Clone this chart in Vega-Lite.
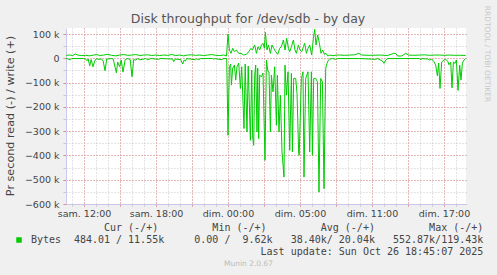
{
  "$schema": "https://vega.github.io/schema/vega-lite/v6.json",
  "width": 400,
  "height": 176,
  "autosize": "none",
  "padding": {"left": 66, "top": 28, "right": 31, "bottom": 71},
  "background": "#F0F0F0",
  "config": {"view": {"fill": "white", "stroke": null}, "font": "DejaVu Sans"},
  "title": {"text": "Disk throughput for /dev/sdb - by day", "font": "DejaVu Sans", "fontSize": 12.5, "fontWeight": "normal", "color": "#555555", "anchor": "middle", "frame": "group", "dx": -18, "dy": 24.5, "offset": 4},
  "datasets": {
    "write": [
      {"t":-1.483,"v":12400},{"t":-1.192,"v":13600},{"t":-0.942,"v":11600},{"t":-0.717,"v":17800},{"t":-0.525,"v":13600},{"t":-0.192,"v":11600},{"t":0.142,"v":12400},{"t":0.475,"v":10300},{"t":0.808,"v":13600},{"t":1.058,"v":15700},{"t":1.308,"v":11600},{"t":1.642,"v":13600},{"t":1.975,"v":16500},{"t":2.308,"v":12400},{"t":2.642,"v":10300},{"t":2.975,"v":13600},{"t":3.308,"v":15700},{"t":3.642,"v":12400},{"t":3.975,"v":13600},{"t":4.308,"v":15700},{"t":4.642,"v":11600},{"t":4.975,"v":13600},{"t":5.308,"v":14500},{"t":5.642,"v":11600},{"t":5.975,"v":13600},{"t":6.308,"v":11600},{"t":6.642,"v":13600},{"t":6.975,"v":12400},{"t":7.308,"v":15700},{"t":7.642,"v":11600},{"t":7.975,"v":13600},{"t":8.308,"v":10300},{"t":8.642,"v":13600},{"t":8.975,"v":14500},{"t":9.308,"v":12400},{"t":9.642,"v":13600},{"t":9.975,"v":11600},{"t":10.308,"v":13600},{"t":10.642,"v":15700},{"t":10.975,"v":12400},{"t":11.308,"v":11600},{"t":11.642,"v":13600},{"t":11.875,"v":9600},
      {"t":12.0,"v":100400},{"t":12.117,"v":34300},{"t":12.25,"v":20700},{"t":12.392,"v":41300},{"t":12.533,"v":27300},{"t":12.7,"v":34300},{"t":12.892,"v":20700},{"t":13.083,"v":20700},{"t":13.308,"v":13600},{"t":13.533,"v":16500},{"t":13.725,"v":27300},{"t":13.917,"v":41300},{"t":14.033,"v":34300},{"t":14.225,"v":55000},{"t":14.367,"v":20700},{"t":14.5,"v":47900},{"t":14.642,"v":34300},{"t":14.783,"v":55000},{"t":14.917,"v":62000},{"t":15.033,"v":41300},{"t":15.117,"v":107400},{"t":15.25,"v":34300},{"t":15.367,"v":55000},{"t":15.533,"v":20700},{"t":15.667,"v":55000},{"t":15.808,"v":41300},{"t":15.975,"v":27300},{"t":16.142,"v":16500},{"t":16.308,"v":41300},{"t":16.45,"v":47900},{"t":16.617,"v":75600},{"t":16.75,"v":34300},{"t":16.892,"v":82600},{"t":17.033,"v":41300},{"t":17.142,"v":27300},{"t":17.283,"v":47900},{"t":17.45,"v":75600},{"t":17.583,"v":34300},{"t":17.7,"v":20700},{"t":17.867,"v":55000},{"t":18.0,"v":34300},{"t":18.142,"v":27300},{"t":18.283,"v":47900},{"t":18.392,"v":62000},{"t":18.533,"v":20700},{"t":18.667,"v":41300},{"t":18.808,"v":55000},{"t":18.975,"v":13600},{"t":19.117,"v":82600},{"t":19.225,"v":119400},{"t":19.333,"v":55000},{"t":19.475,"v":96300},{"t":19.617,"v":62000},{"t":19.75,"v":20700},{"t":19.892,"v":34300},{"t":20.033,"v":16500},{"t":20.167,"v":20700},{"t":20.308,"v":9700},{"t":20.475,"v":13600},{"t":20.75,"v":10700},
      {"t":21.033,"v":13600},{"t":21.308,"v":13600},{"t":21.725,"v":12400},{"t":22.142,"v":13600},{"t":22.558,"v":14500},{"t":22.892,"v":20700},{"t":23.142,"v":13600},{"t":23.808,"v":12400},{"t":24.642,"v":13600},{"t":25.308,"v":11600},{"t":25.808,"v":20700},{"t":25.975,"v":19800},{"t":26.142,"v":9600},{"t":26.475,"v":9600},{"t":26.808,"v":20700},{"t":27.058,"v":13600},{"t":27.475,"v":12400},{"t":27.975,"v":13600},{"t":28.392,"v":14500},{"t":28.808,"v":12400},{"t":29.225,"v":13600},{"t":29.642,"v":13600},{"t":30.058,"v":12400},{"t":30.475,"v":13600},{"t":30.892,"v":12400},{"t":31.308,"v":12800},{"t":31.8,"v":11550}
    ],
    "read": [
      {"t":-1.483,"v":0},{"t":-1.133,"v":-5800},{"t":-1.025,"v":-800},{"t":-0.025,"v":-800},{"t":0.142,"v":-2900},{"t":0.25,"v":-9900},{"t":0.35,"v":-2900},{"t":0.475,"v":-30600},{"t":0.6,"v":-5000},{"t":0.75,"v":-34700},{"t":0.892,"v":-11200},{"t":1.017,"v":-1700},{"t":1.25,"v":-4100},{"t":1.475,"v":-2900},{"t":1.6,"v":-11200},{"t":1.75,"v":-51200},{"t":1.892,"v":-2900},{"t":2.308,"v":-800},{"t":2.433,"v":-2900},{"t":2.7,"v":-59500},{"t":2.808,"v":-15300},{"t":2.975,"v":-34700},{"t":3.1,"v":-7000},{"t":3.25,"v":-56600},{"t":3.433,"v":-5000},{"t":3.642,"v":-800},{"t":3.85,"v":-5000},{"t":4.0,"v":-76000},{"t":4.142,"v":-5000},{"t":4.308,"v":-7000},{"t":4.475,"v":-800},{"t":4.642,"v":-5800},{"t":4.892,"v":-4100},{"t":5.142,"v":-800},{"t":5.308,"v":-5800},{"t":5.558,"v":-800},{"t":6.225,"v":-4100},{"t":6.392,"v":-800},{"t":7.392,"v":-2900},{"t":7.475,"v":-14000},{"t":7.6,"v":-2900},{"t":8.058,"v":-5000},{"t":8.225,"v":-23600},{"t":8.35,"v":-7000},{"t":8.45,"v":-11200},{"t":8.558,"v":-800},{"t":9.283,"v":-5800},{"t":9.392,"v":-2100},{"t":9.558,"v":-5800},{"t":9.725,"v":-800},{"t":10.725,"v":-800},{"t":10.808,"v":-4100},{"t":10.892,"v":-800},{"t":11.5,"v":-5800},{"t":11.6,"v":-800},{"t":11.892,"v":-800},
      {"t":12.0,"v":-316900},{"t":12.117,"v":-34700},{"t":12.225,"v":-23600},{"t":12.283,"v":-110300},{"t":12.392,"v":-40100},{"t":12.533,"v":-27700},{"t":12.642,"v":-89700},{"t":12.75,"v":-34700},{"t":12.892,"v":-19400},{"t":13.033,"v":-124000},{"t":13.142,"v":-34700},{"t":13.333,"v":-289200},{"t":13.433,"v":-23600},{"t":13.583,"v":-303300},{"t":13.683,"v":-31800},{"t":13.867,"v":-337600},{"t":13.975,"v":-48300},{"t":14.058,"v":-324000},{"t":14.142,"v":-358200},{"t":14.225,"v":-69000},{"t":14.308,"v":-27700},{"t":14.417,"v":-303300},{"t":14.475,"v":-40100},{"t":14.558,"v":-330600},{"t":14.642,"v":-69000},{"t":14.783,"v":-76000},{"t":14.917,"v":-60700},{"t":15.083,"v":-420200},{"t":15.2,"v":-7000},{"t":15.333,"v":-55400},{"t":15.417,"v":-55400},{"t":15.533,"v":-303300},{"t":15.617,"v":-69000},{"t":15.75,"v":-138000},{"t":15.892,"v":-34700},{"t":16.033,"v":-275600},{"t":16.117,"v":-69000},{"t":16.25,"v":-303300},{"t":16.367,"v":-151600},{"t":16.5,"v":-385900},{"t":16.667,"v":-489200},{"t":16.75,"v":-27700},{"t":16.867,"v":-151600},{"t":17.0,"v":-55400},{"t":17.142,"v":-378900},{"t":17.283,"v":-62000},{"t":17.367,"v":-385900},{"t":17.475,"v":-82600},{"t":17.642,"v":-82600},{"t":17.75,"v":-144600},{"t":17.892,"v":-392500},{"t":17.933,"v":-399600},{"t":18.117,"v":-82600},{"t":18.25,"v":-55400},{"t":18.333,"v":-489200},{"t":18.475,"v":-82600},{"t":18.667,"v":-55400},{"t":18.808,"v":-385900},{"t":18.95,"v":-55400},{"t":19.033,"v":-399600},{"t":19.142,"v":-82600},{"t":19.308,"v":-82600},{"t":19.45,"v":-96700},{"t":19.583,"v":-551200},{"t":19.725,"v":-82600},{"t":19.867,"v":-96700},{"t":20.0,"v":-537200},{"t":20.142,"v":-41300},{"t":20.25,"v":-20700},{"t":20.367,"v":-7000},{"t":20.475,"v":-2900},{"t":20.725,"v":-800},
      {"t":20.975,"v":-4100},{"t":21.142,"v":-800},{"t":22.975,"v":-800},{"t":24.308,"v":-4100},{"t":24.475,"v":-800},{"t":24.867,"v":-11200},{"t":25.0,"v":-20700},{"t":25.142,"v":-7000},{"t":25.308,"v":-800},{"t":27.975,"v":-800},{"t":28.058,"v":-7000},{"t":28.142,"v":-800},{"t":28.642,"v":-2900},{"t":28.808,"v":-7000},{"t":28.975,"v":-2900},{"t":29.167,"v":-14000},{"t":29.308,"v":-27700},{"t":29.45,"v":-71900},{"t":29.558,"v":-19400},{"t":29.667,"v":-124000},{"t":29.808,"v":-15300},{"t":30.0,"v":-7000},{"t":30.142,"v":-5000},{"t":30.308,"v":-11200},{"t":30.417,"v":-26400},{"t":30.558,"v":-15300},{"t":30.667,"v":-121500},{"t":30.783,"v":-15300},{"t":30.917,"v":-20700},{"t":31.033,"v":-7000},{"t":31.167,"v":-132200},{"t":31.308,"v":-27700},{"t":31.417,"v":-89700},{"t":31.533,"v":-19400},{"t":31.667,"v":-7000},{"t":31.8,"v":-484}
    ]
  },
  "resolve": {"axis": {"x": "independent", "y": "independent"}},
  "layer": [
    {
      "data": {"name": "write"},
      "mark": {"type": "line", "strokeWidth": 1, "interpolate": "linear"},
      "encoding": {
        "x": {"field": "t", "type": "quantitative", "scale": {"domain": [-1.5, 31.833], "nice": false, "zero": false},
          "axis": {"orient": "bottom", "values": [-1,0,1,2,3,4,5,6,7,8,9,10,11,12,13,14,15,16,17,18,19,20,21,22,23,24,25,26,27,28,29,30,31], "grid": true, "gridColor": "#C8C8C8", "gridDash": [1, 2], "gridWidth": 1, "ticks": true, "tickColor": "#C8C8C8", "tickSize": 2, "labels": false, "domain": false, "title": null}},
        "y": {"field": "v", "type": "quantitative", "scale": {"domain": [-600000, 125000], "nice": false, "zero": false},
          "axis": {"orient": "left", "values": [-600000,-550000,-500000,-450000,-400000,-350000,-300000,-250000,-200000,-150000,-100000,-50000,0,50000,100000], "grid": true, "gridColor": "#C8C8C8", "gridDash": [1, 2], "gridWidth": 1, "ticks": true, "tickColor": "#C8C8C8", "tickSize": 3, "labels": false, "domain": false, "title": null}},
        "color": {"datum": "Bytes", "type": "nominal", "scale": {"range": ["#00CC00"]},
          "legend": {"orient": "none", "legendX": -52, "legendY": 207, "title": null, "symbolType": "square", "symbolSize": 30, "labelFont": "DejaVu Sans Mono", "labelFontSize": 10, "labelColor": "#444444", "labelOffset": 7, "padding": 0,
            "encode": {"symbols": {"update": {"fill": {"value": "#00CC00"}, "stroke": {"value": "#00CC00"}, "strokeWidth": {"value": 0}, "shape": {"value": "square"}}}}}}
      }
    },
    {
      "data": {"name": "read"},
      "mark": {"type": "line", "strokeWidth": 1, "interpolate": "linear"},
      "encoding": {
        "x": {"field": "t", "type": "quantitative", "scale": {"domain": [-1.5, 31.833], "nice": false, "zero": false},
          "axis": {"orient": "bottom", "values": [0,3,6,9,12,15,18,21,24,27,30], "grid": true, "gridColor": "#E88A8A", "gridDash": [1, 2], "gridWidth": 1, "ticks": true, "tickColor": "#E88A8A", "tickSize": 2,
            "labels": true, "labelOverlap": false, "labelFlush": false, "labelFont": "DejaVu Sans", "labelFontSize": 9.5, "labelColor": "#444444", "labelPadding": 2.5, "labelBaseline": "top",
            "labelExpr": "datum.value == 0 ? 'sam. 12:00' : datum.value == 6 ? 'sam. 18:00' : datum.value == 12 ? 'dim. 00:00' : datum.value == 18 ? 'dim. 05:00' : datum.value == 24 ? 'dim. 11:00' : datum.value == 30 ? 'dim. 17:00' : ''",
            "domain": true, "domainColor": "#C8C8EC", "domainWidth": 1,
            "title": ["Cur\u00a0(-/+)\u00a0\u00a0\u00a0\u00a0\u00a0\u00a0\u00a0\u00a0\u00a0Min\u00a0(-/+)\u00a0\u00a0\u00a0\u00a0\u00a0\u00a0\u00a0\u00a0\u00a0Avg\u00a0(-/+)\u00a0\u00a0\u00a0\u00a0\u00a0\u00a0\u00a0\u00a0\u00a0Max\u00a0(-/+)\u00a0", "484.01\u00a0/\u00a011.55k\u00a0\u00a0\u00a0\u00a0\u00a00.00\u00a0/\u00a0\u00a09.62k\u00a0\u00a0\u00a038.40k/\u00a020.04k\u00a0\u00a0\u00a0552.87k/119.43k", "Last\u00a0update:\u00a0Sun\u00a0Oct\u00a026\u00a018:45:07\u00a02025"],
            "titleFont": "DejaVu Sans Mono", "titleFontSize": 10, "titleFontWeight": "normal", "titleColor": "#444444", "titleAlign": "right", "titleBaseline": "alphabetic", "titleX": 416.8, "titleY": 26.8, "titleLineHeight": 12}},
        "y": {"field": "v", "type": "quantitative", "scale": {"domain": [-600000, 125000], "nice": false, "zero": false},
          "axis": {"orient": "left", "values": [-600000,-500000,-400000,-300000,-200000,-100000,0,100000], "grid": true, "gridColor": "#E88A8A", "gridDash": [1, 2], "gridWidth": 1, "ticks": true, "tickColor": "#E88A8A", "tickSize": 3,
            "labels": true, "labelFont": "DejaVu Sans", "labelFontSize": 9.5, "labelColor": "#444444", "labelPadding": 4,
            "labelExpr": "datum.value == 0 ? '0' : format(datum.value / 1000, 'd') + ' k'",
            "domain": true, "domainColor": "#C8C8EC", "domainWidth": 1,
            "title": "Pr second read (-) / write (+)", "titleFont": "DejaVu Sans", "titleFontSize": 11.2, "titleFontWeight": "normal", "titleColor": "#444444", "titleAngle": 270, "titleAlign": "center", "titleBaseline": "middle", "titleX": -55.5, "titleY": 87.5}},
        "color": {"datum": "Bytes", "type": "nominal"}
      }
    },
    {
      "mark": {"type": "rule", "color": "#000000", "strokeWidth": 1.2},
      "encoding": {
        "x": {"datum": -1.5, "type": "quantitative",
          "axis": {"orient": "bottom", "grid": false, "ticks": false, "labels": false, "domain": false,
            "title": "Munin 2.0.67", "titleFont": "DejaVu Sans", "titleFontSize": 7.5, "titleFontWeight": "normal", "titleColor": "#BBBBBB", "titleAlign": "center", "titleBaseline": "middle", "titleX": 182, "titleY": 59.5}},
        "x2": {"datum": 31.833},
        "y": {"datum": 0, "type": "quantitative",
          "axis": {"orient": "right", "grid": false, "ticks": false, "labels": false, "domain": false,
            "title": "RRDTOOL / TOBI OETIKER", "titleFont": "DejaVu Sans", "titleFontSize": 7.5, "titleFontWeight": "normal", "titleColor": "#C8C8C8", "titleAngle": 90, "titleAlign": "center", "titleBaseline": "middle", "titleX": 20, "titleY": 25.5}}
      }
    }
  ]
}
